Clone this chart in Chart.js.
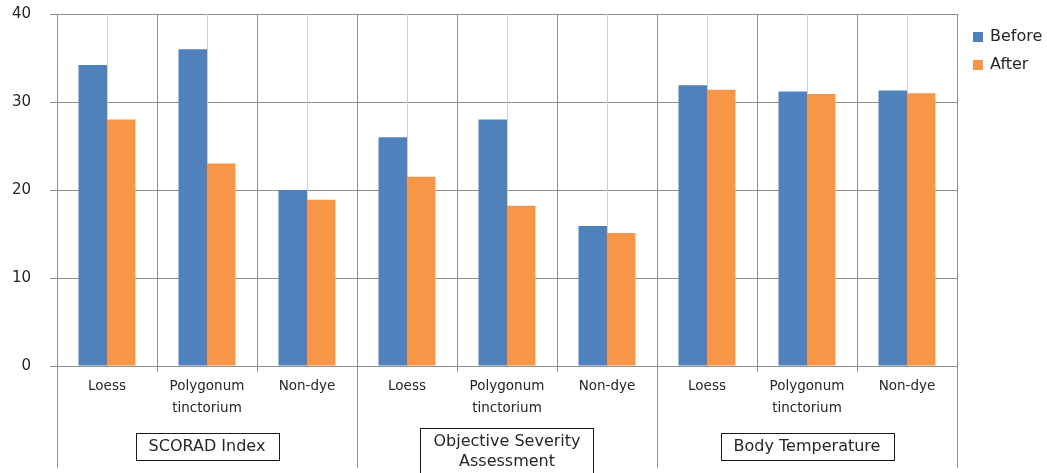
<!DOCTYPE html>
<html>
<head>
<meta charset="utf-8">
<script src="https://cdn.jsdelivr.net/npm/chart.js@4/dist/chart.umd.min.js"></script>
<style>
  html, body { margin: 0; padding: 0; background: #fff; }
  #wrap { width: 1047px; height: 473px; }
</style>
</head>
<body>
<div id="wrap"><canvas id="c" width="1047" height="473"></canvas></div>
<script>
// Treatment categories (repeated under each measure) and the measure groups
const categories = ["Loess", ["Polygonum", "tinctorium"], "Non-dye",
                    "Loess", ["Polygonum", "tinctorium"], "Non-dye",
                    "Loess", ["Polygonum", "tinctorium"], "Non-dye"];
const groups = [["SCORAD Index"], ["Objective Severity", "Assessment"], ["Body Temperature"]];
const groupSize = 3;

// Scores before and after the treatment
const before = [34.2, 36.0, 20.0, 26.0, 28.0, 15.9, 31.9, 31.2, 31.3];
const after  = [28.0, 23.0, 18.9, 21.5, 18.2, 15.1, 31.4, 30.9, 31.0];

// Value axis ticks
const yTicks = [0, 10, 20, 30, 40];

const BLUE = "#4f81bd";
const ORANGE = "#f79646";
const GRID = "#8e8e8e";
const GRID_LIGHT = "#cfcfcf";
const TEXT = "#262626";
const FONT = "'DejaVu Sans', sans-serif";

const labels = categories.map(c => Array.isArray(c) ? c.join(" ") : c);

// Extra drawing: centre grid lines, category and group labels, separators and legend
const decorations = {
  id: "decorations",
  beforeDatasetsDraw(chart) {
    const { ctx, chartArea: a, scales: { x } } = chart;
    ctx.save();
    ctx.strokeStyle = GRID_LIGHT;
    ctx.lineWidth = 1;
    categories.forEach((_, i) => {
      const px = Math.round(x.getPixelForValue(i)) + 0.5;
      ctx.beginPath();
      ctx.moveTo(px, a.top);
      ctx.lineTo(px, a.bottom);
      ctx.stroke();
    });
    ctx.restore();
  },
  afterDraw(chart) {
    const { ctx, chartArea: a, scales: { x } } = chart;
    const half = (x.getPixelForValue(1) - x.getPixelForValue(0)) / 2;
    ctx.save();
    ctx.strokeStyle = GRID;
    ctx.lineWidth = 1;

    // boundaries between categories: short ticks, long lines between groups
    for (let i = 0; i <= categories.length; i++) {
      const px = Math.round(x.getPixelForValue(i) - half) + 0.5;
      const isGroupEdge = i % groupSize === 0;
      const inner = isGroupEdge && i > 0 && i < categories.length;
      ctx.beginPath();
      ctx.moveTo(px, inner ? a.bottom - 23 : a.bottom);
      ctx.lineTo(px, isGroupEdge ? a.bottom + 102 : a.bottom + 6);
      ctx.stroke();
    }

    // category labels
    ctx.fillStyle = TEXT;
    ctx.font = "13.5px " + FONT;
    ctx.textAlign = "center";
    ctx.textBaseline = "middle";
    categories.forEach((c, i) => {
      const lines = Array.isArray(c) ? c : [c];
      const px = x.getPixelForValue(i);
      lines.forEach((t, k) => ctx.fillText(t, px, a.bottom + 20 + k * 22));
    });

    // group labels in boxes
    ctx.font = "16px " + FONT;
    groups.forEach((g, gi) => {
      const left = x.getPixelForValue(gi * groupSize) - half;
      const right = x.getPixelForValue(gi * groupSize + groupSize - 1) + half;
      const cx = (left + right) / 2;
      const w = Math.max(...g.map(t => ctx.measureText(t).width)) + 26;
      const lh = 20;
      const top = g.length > 1 ? a.bottom + 62 : a.bottom + 67;
      const h = g.length > 1 ? 60 : 27;
      ctx.strokeStyle = "#1a1a1a";
      ctx.fillStyle = "#fff";
      ctx.fillRect(Math.round(cx - w / 2) + 0.5, top + 0.5, Math.round(w), h);
      ctx.strokeRect(Math.round(cx - w / 2) + 0.5, top + 0.5, Math.round(w), h);
      ctx.fillStyle = TEXT;
      g.forEach((t, k) => ctx.fillText(t, cx, top + 14 + k * lh));
    });

    // legend
    ctx.font = "16px " + FONT;
    ctx.textAlign = "left";
    [["Before", BLUE], ["After", ORANGE]].forEach(([name, col], k) => {
      const cy = 37 + k * 28;
      ctx.fillStyle = col;
      ctx.fillRect(973, cy - 5, 10, 10);
      ctx.fillStyle = TEXT;
      ctx.fillText(name, 990, cy);
    });
    ctx.restore();
  }
};

new Chart(document.getElementById("c"), {
  type: "bar",
  data: {
    labels: labels,
    datasets: [
      { label: "Before", data: before, backgroundColor: BLUE,
        categoryPercentage: 0.57, barPercentage: 1.0 },
      { label: "After", data: after, backgroundColor: ORANGE,
        categoryPercentage: 0.57, barPercentage: 1.0 }
    ]
  },
  options: {
    responsive: false,
    animation: false,
    devicePixelRatio: 1,
    layout: { padding: { top: 0, right: 90, bottom: 107, left: 0 } },
    plugins: { legend: { display: false }, tooltip: { enabled: false } },
    scales: {
      x: {
        offset: true,
        grid: { display: true, offset: true, color: GRID, drawTicks: false },
        border: { display: false },
        ticks: { display: false }
      },
      y: {
        min: yTicks[0],
        max: yTicks[yTicks.length - 1],
        afterBuildTicks: s => { s.ticks = yTicks.map(v => ({ value: v })); },
        afterFit: s => { s.width = 57; s.paddingTop = 14; s.paddingBottom = 0; },
        grid: { color: GRID, tickLength: 7 },
        border: { display: false },
        ticks: { color: TEXT, font: { family: FONT, size: 15 }, padding: 19 }
      }
    }
  },
  plugins: [decorations]
});
</script>
</body>
</html>
